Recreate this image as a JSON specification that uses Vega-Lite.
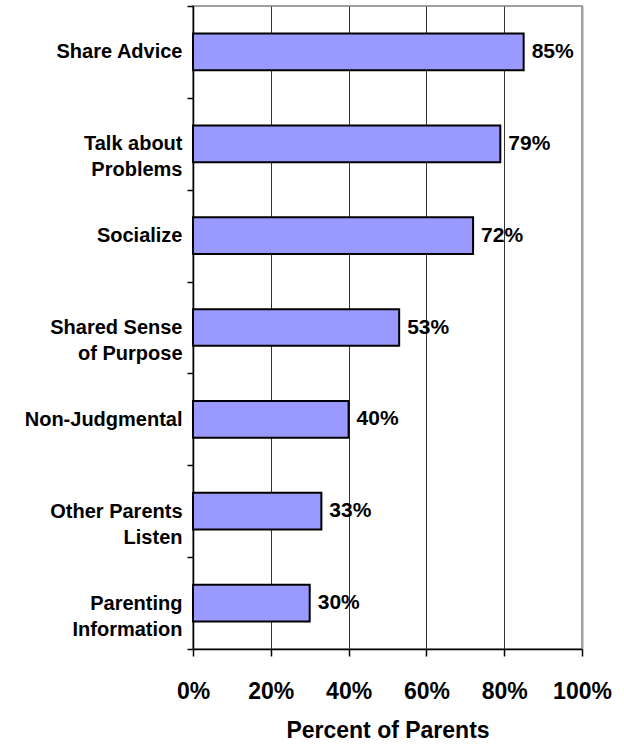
{
  "$schema": "https://vega.github.io/schema/vega-lite/v6.json",
  "width": 389,
  "height": 643,
  "autosize": {"type": "none"},
  "padding": {"left": 193, "top": 6, "right": 42, "bottom": 95},
  "background": "white",
  "config": {
    "font": "Liberation Sans",
    "view": {"stroke": "#a0a0a0", "strokeWidth": 2}
  },
  "data": {
    "values": [
      {"category": "Share Advice", "value": 0.85},
      {"category": "Talk about|Problems", "value": 0.79},
      {"category": "Socialize", "value": 0.72},
      {"category": "Shared Sense|of Purpose", "value": 0.53},
      {"category": "Non-Judgmental", "value": 0.40},
      {"category": "Other Parents|Listen", "value": 0.33},
      {"category": "Parenting|Information", "value": 0.30}
    ]
  },
  "encoding": {
    "y": {
      "field": "category",
      "type": "nominal",
      "sort": null,
      "scale": {"paddingInner": 0, "paddingOuter": 0},
      "axis": {
        "title": null,
        "labelExpr": "split(datum.label, '|')",
        "labelFont": "Liberation Sans",
        "labelFontSize": 20,
        "labelFontWeight": "bold",
        "labelColor": "black",
        "labelLineHeight": 26,
        "labelPadding": 5,
        "labelLimit": 300,
        "tickBand": "extent",
        "tickSize": 6,
        "tickColor": "black",
        "tickWidth": 1.5,
        "domainColor": "black",
        "domainWidth": 1.5,
        "grid": false
      }
    },
    "x": {
      "field": "value",
      "type": "quantitative",
      "scale": {"domain": [0, 1], "nice": false},
      "axis": {
        "title": "Percent of Parents",
        "titleFont": "Liberation Sans",
        "titleFontSize": 23,
        "titleFontWeight": "bold",
        "titleColor": "black",
        "titlePadding": 16,
        "format": ".0%",
        "values": [0, 0.2, 0.4, 0.6, 0.8, 1],
        "labelFont": "Liberation Sans",
        "labelFontSize": 23,
        "labelFontWeight": "bold",
        "labelColor": "black",
        "labelPadding": 24,
        "labelFlush": false,
        "tickSize": 7,
        "tickColor": "black",
        "tickWidth": 1.5,
        "domainColor": "black",
        "domainWidth": 1.5,
        "grid": true,
        "gridColor": {"condition": {"test": "datum.value == 1", "value": "#a0a0a0"}, "value": "#333333"},
        "gridWidth": {"condition": {"test": "datum.value == 1", "value": 2}, "value": 1},
        "gridOpacity": 1
      }
    }
  },
  "layer": [
    {
      "mark": {"type": "bar", "fill": "#9999FF", "stroke": "black", "strokeWidth": 2, "height": {"band": 0.4}}
    },
    {
      "mark": {"type": "text", "align": "left", "baseline": "middle", "dx": 8, "font": "Liberation Sans", "fontSize": 21, "fontWeight": "bold", "color": "black"},
      "encoding": {
        "text": {"field": "value", "type": "quantitative", "format": ".0%"}
      }
    }
  ]
}
